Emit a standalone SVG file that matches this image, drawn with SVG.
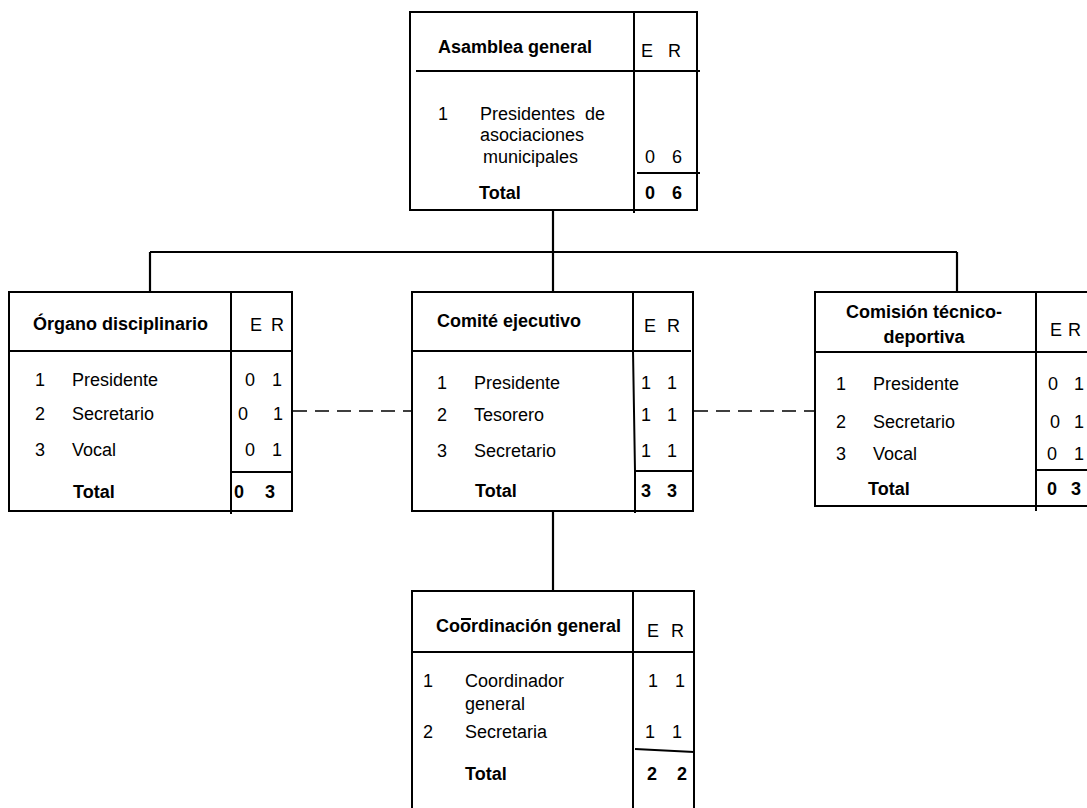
<svg xmlns="http://www.w3.org/2000/svg" width="1087" height="808" viewBox="0 0 1087 808">
  <style>
    .box { fill: #ffffff; stroke: #000000; stroke-width: 2; }
    .ln { stroke: #000000; stroke-width: 2; fill: none; }
    .conn { stroke: #000000; stroke-width: 2.2; fill: none; }
    .dash { stroke: #000000; stroke-width: 1.6; fill: none; stroke-dasharray: 14 8; }
    text { font-family: "Liberation Sans", Arial, sans-serif; font-size: 18px; fill: #000000; }
    .b { font-weight: bold; }
  </style>

  <rect width="1087" height="808" fill="#ffffff"/>

  <!-- connectors -->
  <g id="connectors">
    <path class="conn" d="M553 210 V292"/>
    <path class="conn" d="M150 252 H957"/>
    <path class="conn" d="M150 252 V292"/>
    <path class="conn" d="M957 252 V292"/>
    <path class="conn" d="M553 511 V591"/>
    <path class="dash" d="M293 411 H411"/>
    <path class="dash" d="M694 411 H814"/>
  </g>

  <!-- Asamblea general -->
  <g id="asamblea-general">
    <rect class="box" x="410" y="12" width="287" height="198"/>
    <path class="ln" d="M634 12 V213"/>
    <path class="ln" d="M416 71 H700"/>
    <path class="ln" d="M637 173 H700"/>
    <text class="b" x="438" y="53">Asamblea general</text>
    <text x="641" y="57">E</text>
    <text x="668" y="57">R</text>
    <text x="438" y="120">1</text>
    <text x="480" y="120" xml:space="preserve">Presidentes  de</text>
    <text x="480" y="141">asociaciones</text>
    <text x="483" y="163">municipales</text>
    <text x="645" y="163">0</text>
    <text x="672" y="163">6</text>
    <text class="b" x="479" y="199">Total</text>
    <text class="b" x="645" y="199">0</text>
    <text class="b" x="672" y="199">6</text>
  </g>

  <!-- Órgano disciplinario -->
  <g id="organo-disciplinario">
    <rect class="box" x="9" y="292" width="283" height="219"/>
    <path class="ln" d="M231 292 V514"/>
    <path class="ln" d="M9 351 H292"/>
    <path class="ln" d="M231 472 H292"/>
    <text class="b" x="33" y="330">Órgano disciplinario</text>
    <text x="250" y="331">E</text>
    <text x="271" y="331">R</text>
    <text x="35" y="386">1</text>
    <text x="72" y="386">Presidente</text>
    <text x="245" y="386">0</text>
    <text x="272" y="386">1</text>
    <text x="35" y="420">2</text>
    <text x="72" y="420">Secretario</text>
    <text x="238" y="420">0</text>
    <text x="273" y="420">1</text>
    <text x="35" y="456">3</text>
    <text x="72" y="456">Vocal</text>
    <text x="245" y="456">0</text>
    <text x="272" y="456">1</text>
    <text class="b" x="73" y="498">Total</text>
    <text class="b" x="234" y="498">0</text>
    <text class="b" x="265" y="498">3</text>
  </g>

  <!-- Comité ejecutivo -->
  <g id="comite-ejecutivo">
    <rect class="box" x="412" y="292" width="281" height="219"/>
    <path class="ln" d="M633 292 V351 L635 471 V513"/>
    <path class="ln" d="M412 351 H691"/>
    <path class="ln" d="M635 471 H693"/>
    <text class="b" x="437" y="327">Comité ejecutivo</text>
    <text x="644" y="332">E</text>
    <text x="667" y="332">R</text>
    <text x="437" y="389">1</text>
    <text x="474" y="389">Presidente</text>
    <text x="641" y="389">1</text>
    <text x="667" y="389">1</text>
    <text x="437" y="421">2</text>
    <text x="474" y="421">Tesorero</text>
    <text x="641" y="421">1</text>
    <text x="667" y="421">1</text>
    <text x="437" y="457">3</text>
    <text x="474" y="457">Secretario</text>
    <text x="641" y="457">1</text>
    <text x="667" y="457">1</text>
    <text class="b" x="475" y="497">Total</text>
    <text class="b" x="641" y="497">3</text>
    <text class="b" x="667" y="497">3</text>
  </g>

  <!-- Comisión técnico-deportiva -->
  <g id="comision-tecnico-deportiva">
    <rect class="box" x="815" y="292" width="280" height="214"/>
    <path class="ln" d="M1036 292 V511"/>
    <path class="ln" d="M815 352 H1087"/>
    <path class="ln" d="M1036 470 H1087"/>
    <text class="b" x="924" y="318" text-anchor="middle">Comisión técnico-</text>
    <text class="b" x="924" y="343" text-anchor="middle">deportiva</text>
    <text x="1050" y="336">E</text>
    <text x="1068" y="336">R</text>
    <text x="836" y="390">1</text>
    <text x="873" y="390">Presidente</text>
    <text x="1048" y="390">0</text>
    <text x="1074" y="390">1</text>
    <text x="836" y="428">2</text>
    <text x="873" y="428">Secretario</text>
    <text x="1050" y="428">0</text>
    <text x="1074" y="428">1</text>
    <text x="836" y="460">3</text>
    <text x="873" y="460">Vocal</text>
    <text x="1047" y="460">0</text>
    <text x="1074" y="460">1</text>
    <text class="b" x="868" y="495">Total</text>
    <text class="b" x="1047" y="495">0</text>
    <text class="b" x="1071" y="495">3</text>
  </g>

  <!-- Coordinación general -->
  <g id="coordinacion-general">
    <rect class="box" x="412" y="591" width="282" height="230"/>
    <path class="ln" d="M633 591 V808"/>
    <path class="ln" d="M412 652 H694"/>
    <path class="ln" d="M635 749 L694 752"/>
    <text class="b" x="436" y="632">Coordinación general</text>
    <path class="ln" d="M461 619 H471" stroke-width="1.6"/>
    <text x="647" y="637">E</text>
    <text x="671" y="637">R</text>
    <text x="423" y="687">1</text>
    <text x="465" y="687">Coordinador</text>
    <text x="465" y="710">general</text>
    <text x="648" y="687">1</text>
    <text x="675" y="687">1</text>
    <text x="423" y="738">2</text>
    <text x="465" y="738">Secretaria</text>
    <text x="645" y="738">1</text>
    <text x="672" y="738">1</text>
    <text class="b" x="465" y="780">Total</text>
    <text class="b" x="647" y="780">2</text>
    <text class="b" x="677" y="780">2</text>
  </g>
</svg>
